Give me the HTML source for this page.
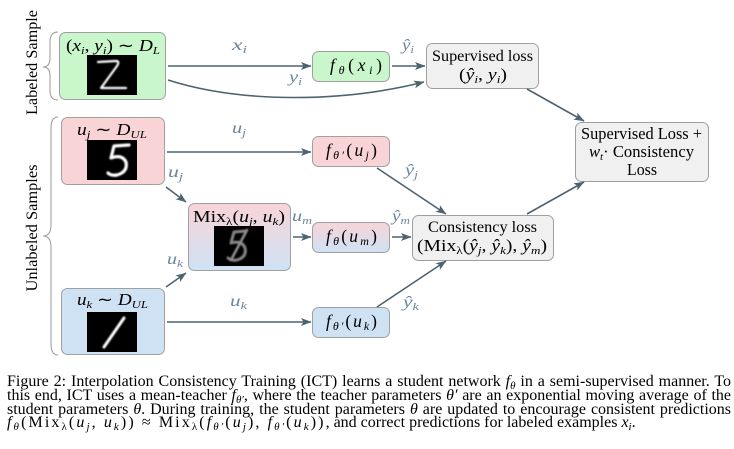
<!DOCTYPE html>
<html><head><meta charset="utf-8"><style>
body{margin:0;background:#fff;width:734px;height:449px;overflow:hidden;position:relative;font-family:"Liberation Serif",serif;}
svg{position:absolute;left:0;top:0}
svg text{font-family:"Liberation Serif",serif}
.cap{position:absolute;left:7px;width:724px;font-size:16px;line-height:13.9px;color:#000;white-space:nowrap}
.j{text-align:justify;text-align-last:justify;white-space:normal}
i{font-style:italic}
.s{font-size:11px;position:relative;top:3px}
.m{letter-spacing:2.1px}
</style></head><body>
<svg width="734" height="449" viewBox="0 0 734 449">
<defs>
<marker id="ah" markerUnits="userSpaceOnUse" markerWidth="11" markerHeight="9" refX="10" refY="4.5" orient="auto">
<path d="M0,0.5 L10.5,4.5 L0,8.5 L2.5,4.5 z" fill="#4d6370"/>
</marker>
<linearGradient id="mg" x1="0" y1="0" x2="0" y2="1">
<stop offset="0" stop-color="#f8d4d8"/><stop offset="1" stop-color="#cfe2f4"/>
</linearGradient>
<filter id="bl" x="-20%" y="-20%" width="140%" height="140%"><feGaussianBlur stdDeviation="0.8"/></filter>
</defs>

<!-- braces -->
<path d="M58,32 Q50,32 50,42 L50,58 Q50,67 43,67 Q50,67 50,76 L50,91 Q50,100 58,100" fill="none" stroke="#999" stroke-width="1"/>
<path d="M58,117 Q51,117 51,128 L51,225 Q51,236 43,236 Q51,236 51,247 L51,344 Q51,355 58,355" fill="none" stroke="#999" stroke-width="1"/>
<text transform="translate(37,62.5) rotate(-90)" text-anchor="middle" font-size="16" textLength="105" lengthAdjust="spacingAndGlyphs">Labeled Sample</text>
<text transform="translate(37,228) rotate(-90)" text-anchor="middle" font-size="16" textLength="127" lengthAdjust="spacingAndGlyphs">Unlabeled Samples</text>

<!-- source boxes -->
<rect x="59.5" y="32.5" width="106" height="67" rx="6" fill="#c9f6ca" stroke="#a0a0a0"/>
<rect x="61.5" y="117.5" width="103" height="67" rx="6" fill="#f9d4d7" stroke="#a0a0a0"/>
<rect x="61.5" y="288.5" width="103" height="66" rx="6" fill="#cfe2f4" stroke="#a0a0a0"/>
<rect x="188.5" y="203.5" width="102" height="67" rx="6" fill="url(#mg)" stroke="#a0a0a0"/>

<!-- digit images -->
<rect x="87" y="55" width="50" height="40" fill="#000"/>
<path d="M98,62 L116,61 Q120,61 117,66 L101,88 L126,88" fill="none" stroke="#fff" stroke-width="2.2" stroke-linecap="round" stroke-linejoin="round" filter="url(#bl)"/>
<rect x="87" y="140" width="50" height="40" fill="#000"/>
<path d="M129,145 L114,146 L111,158 Q122,154 126,162 Q128,172 117,175 Q111,176 108,173" fill="none" stroke="#fff" stroke-width="3.2" stroke-linecap="round" stroke-linejoin="round" filter="url(#bl)"/>
<rect x="87" y="312" width="50" height="40" fill="#000"/>
<path d="M124,318 L104,347" fill="none" stroke="#fff" stroke-width="3" stroke-linecap="round" filter="url(#bl)"/>
<rect x="214" y="226" width="50" height="40" fill="#000"/>
<g opacity="0.6" filter="url(#bl)">
<path d="M246,231 L234,232 L231,243 Q242,240 245,248 Q247,257 237,260 Q231,261 228,258" fill="none" stroke="#ddd" stroke-width="3" stroke-linecap="round" stroke-linejoin="round"/>
<path d="M247,230 L231,260" fill="none" stroke="#eee" stroke-width="2.6" stroke-linecap="round"/>
</g>

<!-- titles -->
<text x="66" y="51" font-size="16.5" textLength="94" lengthAdjust="spacingAndGlyphs">(<tspan font-style="italic">x</tspan><tspan font-size="11" dy="3" font-style="italic">i</tspan><tspan dy="-3">, </tspan><tspan font-style="italic">y</tspan><tspan font-size="11" dy="3" font-style="italic">i</tspan><tspan dy="-3">) ∼ </tspan><tspan font-style="italic">D</tspan><tspan font-size="11" dy="3" font-style="italic">L</tspan></text>
<text x="77" y="135" font-size="16.5" textLength="70" lengthAdjust="spacingAndGlyphs"><tspan font-style="italic">u</tspan><tspan font-size="11" dy="3" font-style="italic">j</tspan><tspan dy="-3"> ∼ </tspan><tspan font-style="italic">D</tspan><tspan font-size="11" dy="3" font-style="italic">UL</tspan></text>
<text x="77" y="305" font-size="16.5" textLength="71" lengthAdjust="spacingAndGlyphs"><tspan font-style="italic">u</tspan><tspan font-size="11" dy="3" font-style="italic">k</tspan><tspan dy="-3"> ∼ </tspan><tspan font-style="italic">D</tspan><tspan font-size="11" dy="3" font-style="italic">UL</tspan></text>
<text x="193" y="222" font-size="16.5" textLength="92" lengthAdjust="spacingAndGlyphs">Mix<tspan font-size="11" dy="3">λ</tspan><tspan dy="-3">(</tspan><tspan font-style="italic">u</tspan><tspan font-size="11" dy="3" font-style="italic">j</tspan><tspan dy="-3">, </tspan><tspan font-style="italic">u</tspan><tspan font-size="11" dy="3" font-style="italic">k</tspan><tspan dy="-3">)</tspan></text>

<!-- f boxes -->
<rect x="312.5" y="51.5" width="77" height="30" rx="6" fill="#c9f6ca" stroke="#a0a0a0"/>
<rect x="312.5" y="136.5" width="77" height="30" rx="6" fill="#f9d4d7" stroke="#a0a0a0"/>
<rect x="312.5" y="222.5" width="77" height="30" rx="6" fill="url(#mg)" stroke="#a0a0a0"/>
<rect x="312.5" y="307.5" width="77" height="30" rx="6" fill="#cfe2f4" stroke="#a0a0a0"/>
<text x="330" y="71" font-size="17.5" textLength="52" lengthAdjust="spacing"><tspan font-style="italic">f</tspan><tspan font-size="12" dy="3" font-style="italic">θ</tspan><tspan dy="-3">(</tspan><tspan font-style="italic">x</tspan><tspan font-size="12" dy="3" font-style="italic">i</tspan><tspan dy="-3">)</tspan></text>
<text x="326" y="156" font-size="17.5" textLength="51" lengthAdjust="spacing"><tspan font-style="italic">f</tspan><tspan font-size="12" dy="3" font-style="italic">θ′</tspan><tspan dy="-3">(</tspan><tspan font-style="italic">u</tspan><tspan font-size="12" dy="3" font-style="italic">j</tspan><tspan dy="-3">)</tspan></text>
<text x="326" y="242" font-size="17.5" textLength="51" lengthAdjust="spacing"><tspan font-style="italic">f</tspan><tspan font-size="12" dy="3" font-style="italic">θ</tspan><tspan dy="-3">(</tspan><tspan font-style="italic">u</tspan><tspan font-size="12" dy="3" font-style="italic">m</tspan><tspan dy="-3">)</tspan></text>
<text x="326" y="327" font-size="17.5" textLength="51" lengthAdjust="spacing"><tspan font-style="italic">f</tspan><tspan font-size="12" dy="3" font-style="italic">θ′</tspan><tspan dy="-3">(</tspan><tspan font-style="italic">u</tspan><tspan font-size="12" dy="3" font-style="italic">k</tspan><tspan dy="-3">)</tspan></text>

<!-- loss boxes -->
<rect x="426.5" y="43.5" width="112" height="45" rx="6" fill="#f0f0f0" stroke="#a0a0a0"/>
<text x="432" y="61" font-size="16.2" textLength="101" lengthAdjust="spacingAndGlyphs">Supervised loss</text>
<text x="459" y="80" font-size="16.5" textLength="48" lengthAdjust="spacingAndGlyphs">(<tspan font-style="italic">ŷ</tspan><tspan font-size="11" dy="3" font-style="italic">i</tspan><tspan dy="-3">, </tspan><tspan font-style="italic">y</tspan><tspan font-size="11" dy="3" font-style="italic">i</tspan><tspan dy="-3">)</tspan></text>

<rect x="412.5" y="215.5" width="141" height="45" rx="6" fill="#f0f0f0" stroke="#a0a0a0"/>
<text x="428" y="232" font-size="16.2" textLength="109" lengthAdjust="spacingAndGlyphs">Consistency loss</text>
<text x="417" y="251" font-size="16.5" textLength="130" lengthAdjust="spacingAndGlyphs">(Mix<tspan font-size="11" dy="3">λ</tspan><tspan dy="-3">(</tspan><tspan font-style="italic">ŷ</tspan><tspan font-size="11" dy="3" font-style="italic">j</tspan><tspan dy="-3">, </tspan><tspan font-style="italic">ŷ</tspan><tspan font-size="11" dy="3" font-style="italic">k</tspan><tspan dy="-3">), </tspan><tspan font-style="italic">ŷ</tspan><tspan font-size="11" dy="3" font-style="italic">m</tspan><tspan dy="-3">)</tspan></text>

<rect x="575.5" y="122.5" width="133" height="59" rx="6" fill="#f0f0f0" stroke="#a0a0a0"/>
<text x="581" y="139" font-size="16.4" textLength="121" lengthAdjust="spacingAndGlyphs">Supervised Loss +</text>
<text x="589" y="157" font-size="16.4" textLength="105" lengthAdjust="spacingAndGlyphs"><tspan font-style="italic">w</tspan><tspan font-size="11" dy="3" font-style="italic">t</tspan><tspan dy="-3">· Consistency</tspan></text>
<text x="627" y="175" font-size="16.4" textLength="30" lengthAdjust="spacingAndGlyphs">Loss</text>

<!-- arrows -->
<g stroke="#4d6370" stroke-width="1.6" fill="none" marker-end="url(#ah)">
<line x1="168" y1="66" x2="311" y2="66"/>
<path d="M168,80 C240,103 340,103 424,82"/>
<line x1="392" y1="66" x2="425" y2="66"/>
<line x1="527" y1="89" x2="584" y2="121"/>
<line x1="167" y1="152" x2="311" y2="152"/>
<line x1="377" y1="168" x2="446" y2="214"/>
<line x1="166" y1="187" x2="186" y2="202"/>
<line x1="166" y1="287" x2="186" y2="273"/>
<line x1="293" y1="237" x2="311" y2="237"/>
<line x1="392" y1="237" x2="411" y2="237"/>
<line x1="167" y1="322" x2="311" y2="322"/>
<line x1="377" y1="307" x2="446" y2="261"/>
<line x1="527" y1="214" x2="584" y2="182"/>
</g>

<!-- labels -->
<g fill="#6a87a0" font-size="15.5" font-style="italic">
<text x="232" y="50" textLength="15" lengthAdjust="spacingAndGlyphs">x<tspan font-size="10.5" dy="3">i</tspan></text>
<text x="289" y="82" textLength="13" lengthAdjust="spacingAndGlyphs">y<tspan font-size="10.5" dy="3">i</tspan></text>
<text x="402" y="50" textLength="12" lengthAdjust="spacingAndGlyphs">ŷ<tspan font-size="10.5" dy="3">i</tspan></text>
<text x="232" y="133" textLength="14" lengthAdjust="spacingAndGlyphs">u<tspan font-size="10.5" dy="3">j</tspan></text>
<text x="405" y="175" textLength="13" lengthAdjust="spacingAndGlyphs">ŷ<tspan font-size="10.5" dy="3">j</tspan></text>
<text x="168" y="177" textLength="15" lengthAdjust="spacingAndGlyphs">u<tspan font-size="10.5" dy="3">j</tspan></text>
<text x="167" y="264" textLength="16" lengthAdjust="spacingAndGlyphs">u<tspan font-size="10.5" dy="3">k</tspan></text>
<text x="292" y="221" textLength="20" lengthAdjust="spacingAndGlyphs">u<tspan font-size="10.5" dy="3">m</tspan></text>
<text x="392" y="221" textLength="18" lengthAdjust="spacingAndGlyphs">ŷ<tspan font-size="10.5" dy="3">m</tspan></text>
<text x="230" y="306" textLength="17" lengthAdjust="spacingAndGlyphs">u<tspan font-size="10.5" dy="3">k</tspan></text>
<text x="403" y="307" textLength="16" lengthAdjust="spacingAndGlyphs">ŷ<tspan font-size="10.5" dy="3">k</tspan></text>
</g>
</svg>

<div class="cap j" style="top:375px">Figure 2: Interpolation Consistency Training (ICT) learns a student network <i>f</i><span class="s"><i>θ</i></span> in a semi-supervised manner. To</div>
<div class="cap j" style="top:389px">this end, ICT uses a mean-teacher <i>f</i><span class="s"><i>θ′</i></span>, where the teacher parameters <i>θ′</i> are an exponential moving average of the</div>
<div class="cap j" style="top:403px">student parameters <i>θ</i>. During training, the student parameters <i>θ</i> are updated to encourage consistent predictions</div>
<div class="cap" style="top:416px"><span class="m"><i>f</i><span class="s"><i>θ</i></span>(Mix<span class="s">λ</span>(<i>u</i><span class="s"><i>j</i></span>, <i>u</i><span class="s"><i>k</i></span>)) ≈ Mix<span class="s">λ</span>(<i>f</i><span class="s"><i>θ′</i></span>(<i>u</i><span class="s"><i>j</i></span>), <i>f</i><span class="s"><i>θ′</i></span>(<i>u</i><span class="s"><i>k</i></span>))</span>, and correct predictions for labeled examples <i>x</i><span class="s"><i>i</i></span>.</div>
</body></html>
